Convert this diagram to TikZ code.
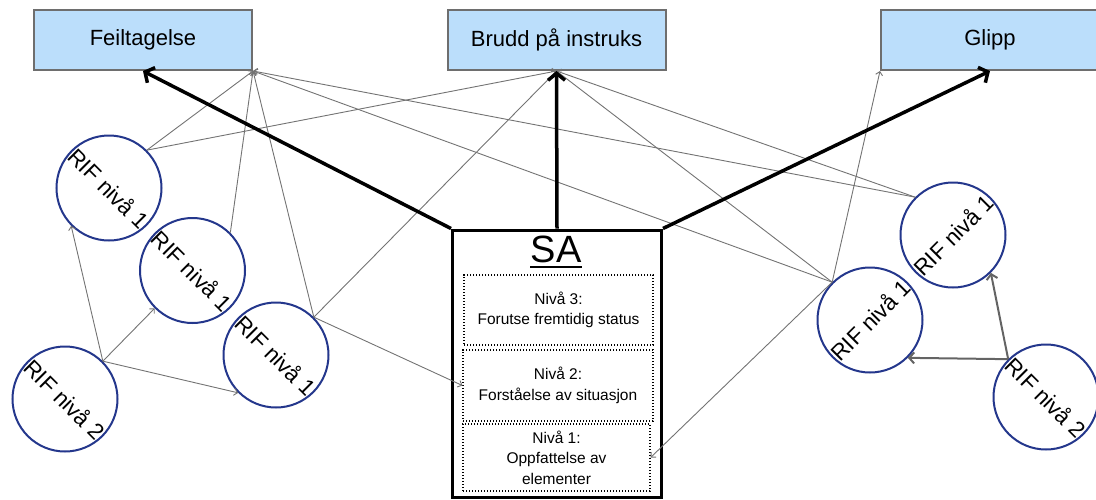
\documentclass[tikz,border=0pt]{standalone}
\usepackage{fontspec}
\setmainfont{Liberation Sans}
\usetikzlibrary{arrows.meta}
\definecolor{boxfill}{RGB}{187,222,251}
\definecolor{boxline}{RGB}{110,110,110}
\definecolor{rifblue}{RGB}{36,55,140}
\definecolor{linkgray}{RGB}{115,115,115}
\definecolor{pushgray}{RGB}{100,100,100}

\begin{document}
\begin{tikzpicture}[x=1pt,y=-1pt,
  outcome/.style={draw=boxline, line width=2pt, fill=boxfill, minimum width=218pt,
    minimum height=60pt, inner sep=0pt, font=\fontsize{22}{26}\selectfont},
  rif/.style={circle, draw=rifblue, line width=2pt, fill=white, minimum size=105pt, inner sep=0pt},
  riftext/.style={font=\fontsize{22.5}{26}\selectfont, inner sep=0pt},
  level/.style={draw, dash pattern=on 1.1pt off 1.9pt, line width=1.2pt, align=center,
    inner sep=0pt, font=\fontsize{15.5}{20.5}\selectfont},
  link/.style={draw=linkgray, line width=0.9pt, -{Straight Barb[length=3.5pt,width=7pt]}},
  push/.style={draw=pushgray, line width=2pt, -{Straight Barb[length=5pt,width=11pt]}},
  strong/.style={draw=black, line width=3.5pt, -{Straight Barb[length=7pt,width=17pt]}}
]
\useasboundingbox (0,0) rectangle (1096,499);

% outcome boxes
\node[outcome] (fe) at (143,40) {Feiltagelse};
\node[outcome] (br) at (556.5,40) {Brudd på instruks};
\node[outcome] (gl) at (990,40) {Glipp};

% situation awareness block
\node[draw=black, line width=3pt, fill=white, minimum width=209pt, minimum height=267pt,
  inner sep=0pt] (sa) at (557,363.5) {};
\node[font=\fontsize{38}{40}\selectfont, inner sep=0pt, anchor=base] (salbl) at (556,262) {SA};
\draw[line width=2.3pt] ([yshift=-5pt]salbl.base west) -- ([yshift=-5pt]salbl.base east);
\node[level, minimum width=189pt, minimum height=70pt] (l3) at (558.5,310)
  {Nivå 3:\\Forutse fremtidig status};
\node[level, minimum width=190pt, minimum height=71pt] (l2) at (558,385.5)
  {Nivå 2:\\Forståelse av situasjon};
\node[level, minimum width=187pt, minimum height=67pt] (l1) at (556.5,457.5)
  {Nivå 1:\\Oppfattelse av\\elementer};

% performance influencing factors
\node[rif] (c1) at (109,188) {};
\node[rif] (c2) at (192.5,270.5) {};
\node[rif] (c3) at (276,355) {};
\node[rif] (c4) at (65,399) {};
\node[rif] (c5) at (953,235) {};
\node[rif] (c6) at (870,320) {};
\node[rif] (c7) at (1046,397) {};
\node[riftext, rotate=-45] at (c1) {RIF nivå 1};
\node[riftext, rotate=-45] at (c2) {RIF nivå 1};
\node[riftext, rotate=-45] at (c3) {RIF nivå 1};
\node[riftext, rotate=-45] at (c4) {RIF nivå 2};
\node[riftext, rotate=45] at (c5) {RIF nivå 1};
\node[riftext, rotate=45] at (c6) {RIF nivå 1};
\node[riftext, rotate=-45] at (c7) {RIF nivå 2};

% influence links
\draw[link] (c1.45) -- (fe.south east);
\draw[link] (c1.45) -- (br.south);
\draw[link] (c2.45) -- (fe.south east);
\draw[link] (c3.45) -- (fe.south east);
\draw[link] (c3.45) -- (br.south);
\draw[link] (c3.45) -- (l2.west);
\draw[link] (c4.45) -- (c1.225);
\draw[link] (c4.45) -- (c2.225);
\draw[link] (c4.45) -- (c3.225);
\draw[link] (c5.135) -- (fe.south east);
\draw[link] (c5.135) -- (br.south);
\draw[link] (c6.135) -- (fe.south east);
\draw[link] (c6.135) -- (br.south);
\draw[link] (c6.135) -- (gl.south west);
\draw[link] (c6.135) -- (l1.east);
\draw[push] (c7.135) -- (c6.-45);
\draw[push] (c7.135) -- (c5.-45);

% SA to outcomes
\draw[strong] (sa.north west) -- (fe.south);
\draw[strong] (sa.north) -- (br.south);
\draw[strong] (sa.north east) -- (gl.south);
\end{tikzpicture}
\end{document}
